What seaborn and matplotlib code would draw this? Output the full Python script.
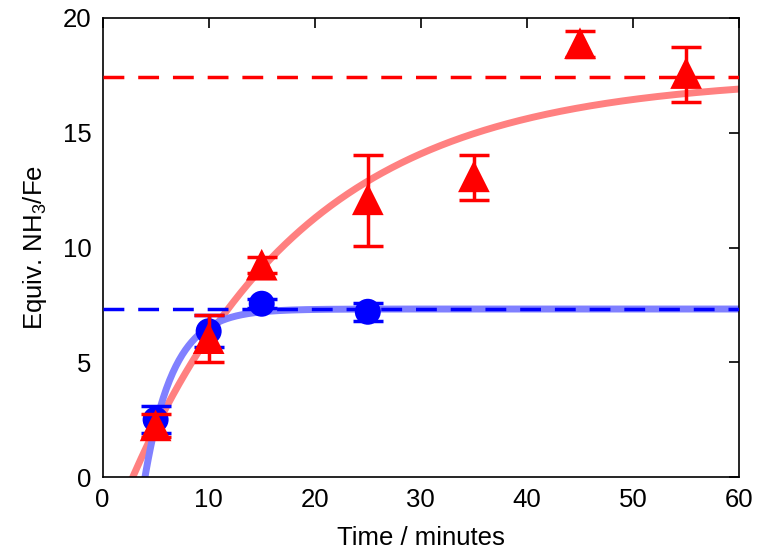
import numpy as np
import pandas as pd
import matplotlib
matplotlib.use("Agg")
import matplotlib.pyplot as plt
import seaborn as sns

# Data
red_t = [5, 10, 15, 25, 35, 45, 55]
red_y = [2.25, 6.05, 9.25, 12.1, 13.1, 18.9, 17.6]
red_err_lo = [0.5, 1.05, 0.35, 2.05, 1.05, 0.6, 1.25]
red_err_hi = [0.5, 1.0, 0.35, 1.95, 0.95, 0.55, 1.15]

blue_t = [5, 10, 15, 25]
blue_y = [2.5, 6.35, 7.55, 7.2]
blue_err = [0.6, 0.7, 0.2, 0.4]

# Fit parameters (A * (1 - exp(-(t - t0)/tau)))
red_fit = dict(A=17.45, t0=2.85, tau=16.5)
blue_fit = dict(A=7.32, t0=4.0, tau=2.7)

red_plateau = 17.45
blue_plateau = 7.32

xticks = [0, 10, 20, 30, 40, 50, 60]
yticks = [0, 5, 10, 15, 20]

sns.set_theme(style="white")
plt.rcParams['font.family'] = ['Liberation Sans', 'DejaVu Sans']
plt.rcParams['mathtext.fontset'] = 'custom'
plt.rcParams['mathtext.rm'] = 'Liberation Sans'
plt.rcParams['mathtext.it'] = 'Liberation Sans:italic'

fig = plt.figure(figsize=(7.62, 5.55), dpi=100)
ax = fig.add_axes([0.1346, 0.1405, 0.8354, 0.8271])

t = np.linspace(0, 60, 600)
def fit(p):
    y = p['A'] * (1 - np.exp(-(t - p['t0']) / p['tau']))
    return y

curves = pd.DataFrame({'t': np.concatenate([t, t]),
                       'y': np.concatenate([fit(red_fit), fit(blue_fit)]),
                       'series': ['red'] * len(t) + ['blue'] * len(t)})
sns.lineplot(data=curves, x='t', y='y', hue='series',
             palette={'red': '#ff8080', 'blue': '#8080ff'},
             linewidth=5, ax=ax, legend=False, zorder=2)

ax.axhline(blue_plateau, color='#0000ff', lw=2.5, dashes=(6, 4), zorder=3)
ax.axhline(red_plateau, color='#ff0000', lw=2.5, dashes=(6, 4), zorder=3)

ax.errorbar(blue_t, blue_y, yerr=blue_err, fmt='none', ecolor='#0000ff',
            elinewidth=2.5, capsize=11, capthick=2.5, zorder=4)
sns.scatterplot(x=blue_t, y=blue_y, color='#0000ff', marker='o', s=350,
                edgecolor='none', ax=ax, zorder=5)

ax.errorbar(red_t, red_y, yerr=[red_err_lo, red_err_hi], fmt='none',
            ecolor='#ff0000', elinewidth=2.5, capsize=11, capthick=2.5, zorder=6)
sns.scatterplot(x=red_t, y=red_y, color='#ff0000', marker='^', s=520,
                edgecolor='none', ax=ax, zorder=7)

ax.set_xlim(0, 60)
ax.set_ylim(0, 20)
ax.set_xticks(xticks)
ax.set_yticks(yticks)
ax.tick_params(direction='in', length=7, width=1.2, top=True, right=True,
               labelsize=18.5, pad=8, colors='black')
for s in ax.spines.values():
    s.set_color('black')
    s.set_linewidth(1.2)
ax.set_xlabel('Time / minutes', fontsize=18.5, color='black', labelpad=10)
ax.set_ylabel('Equiv. NH$_3$/Fe', fontsize=18.5, color='black', labelpad=10)

fig.savefig('out.png', dpi=100)
